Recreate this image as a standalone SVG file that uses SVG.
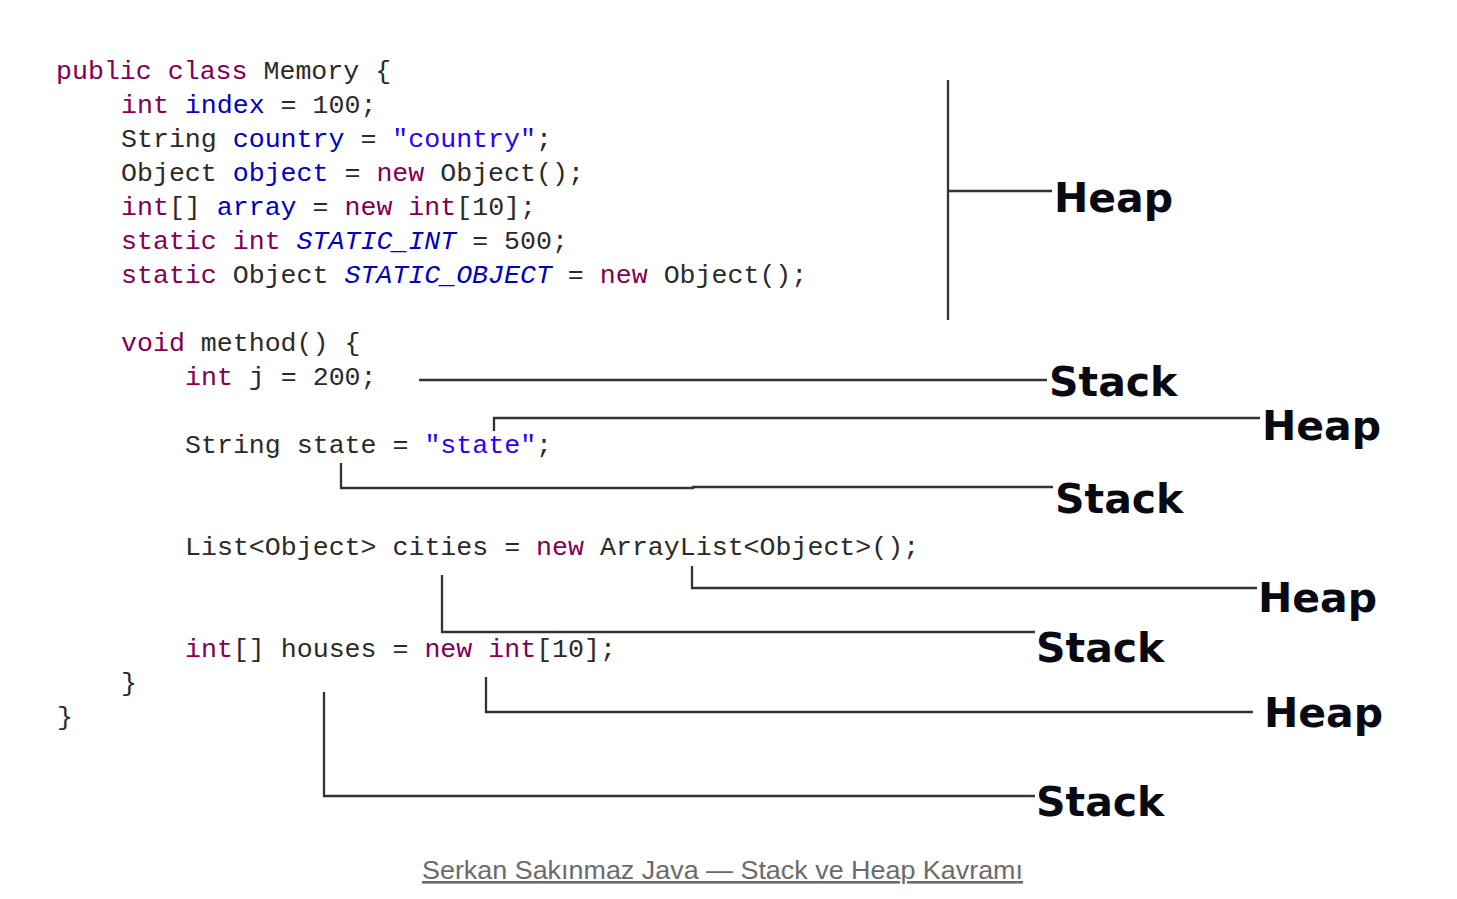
<svg xmlns="http://www.w3.org/2000/svg" width="1457" height="899" viewBox="0 0 1457 899">
<style>
.code{font-family:"Liberation Mono","Courier New",monospace;font-size:26.6px;fill:#2a2a2a;white-space:pre}
.k{fill:#7f0055}
.f{fill:#0000c0}
.fi{fill:#0000c0;font-style:italic}
.s{fill:#2a00ff}
.lbl{font-family:"DejaVu Sans",Verdana,sans-serif;font-weight:bold;font-size:41px;fill:#0a0a14}
.ln{stroke:#333;stroke-width:2.3;fill:none}
.cap{font-family:"Liberation Sans",Arial,sans-serif;font-size:26px;fill:#6b6b6b;text-decoration:underline}
</style>
<rect width="1457" height="899" fill="#fff"/>
<g id="code" xml:space="preserve">
<text class="code" x="56" y="79"><tspan class="k">public</tspan> <tspan class="k">class</tspan> Memory {</text>
<text class="code" x="121" y="113"><tspan class="k">int</tspan> <tspan class="f">index</tspan> = 100;</text>
<text class="code" x="121" y="147">String <tspan class="f">country</tspan> = <tspan class="s">"country"</tspan>;</text>
<text class="code" x="121" y="181">Object <tspan class="f">object</tspan> = <tspan class="k">new</tspan> Object();</text>
<text class="code" x="121" y="215"><tspan class="k">int</tspan>[] <tspan class="f">array</tspan> = <tspan class="k">new</tspan> <tspan class="k">int</tspan>[10];</text>
<text class="code" x="121" y="249"><tspan class="k">static</tspan> <tspan class="k">int</tspan> <tspan class="fi">STATIC_INT</tspan> = 500;</text>
<text class="code" x="121" y="283"><tspan class="k">static</tspan> Object <tspan class="fi">STATIC_OBJECT</tspan> = <tspan class="k">new</tspan> Object();</text>
<text class="code" x="121" y="351"><tspan class="k">void</tspan> method() {</text>
<text class="code" x="185" y="385"><tspan class="k">int</tspan> j = 200;</text>
<text class="code" x="185" y="453">String state = <tspan class="s">"state"</tspan>;</text>
<text class="code" x="185" y="555">List&lt;Object&gt; cities = <tspan class="k">new</tspan> ArrayList&lt;Object&gt;();</text>
<text class="code" x="185" y="657"><tspan class="k">int</tspan>[] houses = <tspan class="k">new</tspan> <tspan class="k">int</tspan>[10];</text>
<text class="code" x="121" y="691">}</text>
<text class="code" x="57" y="725">}</text>
</g>
<g id="connectors">
<path class="ln" d="M948 80 V320 M948 191 H1052"/>
<path class="ln" d="M419 380 H1047"/>
<path class="ln" d="M494 431 V418 H1260"/>
<path class="ln" d="M341 463 V488 H693 V487 H1053"/>
<path class="ln" d="M692 566 V588 H1257"/>
<path class="ln" d="M442 575 V632 H1035"/>
<path class="ln" d="M486 677 V712 H1253"/>
<path class="ln" d="M324 692 V796 H1035"/>
</g>
<g id="label-heap-1"><text class="lbl" x="1054" y="212">Heap</text></g>
<g id="label-stack-1"><text class="lbl" x="1049" y="396">Stack</text></g>
<g id="label-heap-2"><text class="lbl" x="1262" y="440">Heap</text></g>
<g id="label-stack-2"><text class="lbl" x="1055" y="513">Stack</text></g>
<g id="label-heap-3"><text class="lbl" x="1258" y="612">Heap</text></g>
<g id="label-stack-3"><text class="lbl" x="1036" y="662">Stack</text></g>
<g id="label-heap-4"><text class="lbl" x="1264" y="727">Heap</text></g>
<g id="label-stack-4"><text class="lbl" x="1036" y="816">Stack</text></g>
<g id="caption"><text class="cap" x="422" y="879" textLength="601" lengthAdjust="spacingAndGlyphs">Serkan Sakınmaz Java — Stack ve Heap Kavramı</text></g>
</svg>
